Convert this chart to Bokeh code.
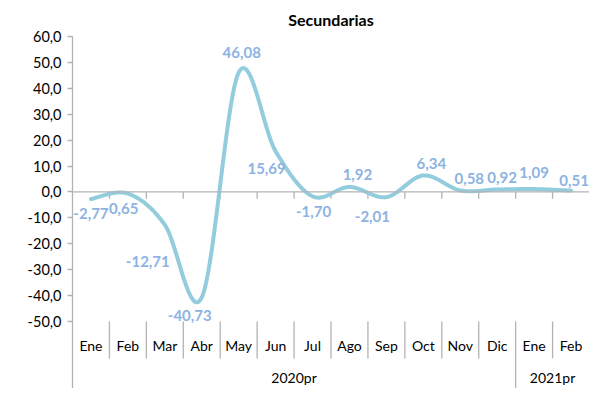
import numpy as np
from bokeh.plotting import figure
from bokeh.models import (FixedTicker, CustomJSTickFormatter, Range1d, ColumnDataSource,
                          Label, Span)
from bokeh.embed import file_html
from bokeh.resources import INLINE
from bokeh.core.properties import value

# ---------------- data ----------------
chart_title = "Secundarias"
months = ["Ene", "Feb", "Mar", "Abr", "May", "Jun", "Jul", "Ago", "Sep", "Oct", "Nov", "Dic", "Ene", "Feb"]
years = ["2020pr", "2021pr"]
year_counts = [12, 2]
values = [-2.77, -0.65, -12.71, -40.73, 46.08, 15.69, -1.70, 1.92, -2.01, 6.34, 0.58, 0.92, 1.09, 0.51]
y_ticks = [-50, -40, -30, -20, -10, 0, 10, 20, 30, 40, 50, 60]
y_axis_title = "%"

# ---------------- styling / placement ----------------
lab_dx = [0, -7, -17, -12, 3, -9, 1, 8, -14, 8, 9, 5, 0, 3]
lab_dy = [14, 15, 37, 18, -20, 17, 15, -12, 19, -12, -12, -12, -17, -10]
LINE_COLOR = "#93CDDD"
LABEL_COLOR = "#8DB3E2"
AXIS_COLOR = "#B3B3B3"
FONT = "Lato"

n = len(months)
x = np.arange(n) + 0.5
y_min, y_max = y_ticks[0], y_ticks[-1]
y_bottom = -75.9
month_y = -59.3
year_y = -71.6
sep_short = -64.3


def smooth(xs, ys, steps=40):
    P = np.column_stack([xs, ys]).astype(float)
    m = len(P)
    out = [P[0]]
    t = np.linspace(0, 1, steps)[1:, None]
    for i in range(m - 1):
        p0 = P[i - 1] if i > 0 else P[i]
        p1, p2 = P[i], P[i + 1]
        p3 = P[i + 2] if i + 2 < m else P[i + 1]
        c1 = p1 + (p2 - p0) / 6.0
        c2 = p2 - (p3 - p1) / 6.0
        seg = (1 - t) ** 3 * p1 + 3 * (1 - t) ** 2 * t * c1 + 3 * (1 - t) * t ** 2 * c2 + t ** 3 * p2
        out.extend(seg)
    return np.array(out)


p = figure(width=589, height=388, output_backend="svg", toolbar_location=None,
           x_range=Range1d(0, n), y_range=Range1d(y_bottom, y_max),
           x_axis_location=None, min_border_left=72, min_border_right=0,
           min_border_top=36, min_border_bottom=0)
p.title.text = chart_title
p.title.align = "center"
p.title.text_font = FONT
p.title.text_font_size = "16px"
p.title.text_font_style = "bold"
p.title.text_color = "black"
p.title.standoff = 15
p.outline_line_color = None
p.grid.visible = False
p.background_fill_color = "white"
p.border_fill_color = "white"

ax = p.yaxis[0]
ax.ticker = FixedTicker(ticks=y_ticks)
ax.formatter = CustomJSTickFormatter(code="return tick.toFixed(1).replace('.', ',');")
ax.minor_tick_line_color = None
ax.major_tick_in = 0
ax.major_tick_out = 5
ax.major_tick_line_color = AXIS_COLOR
ax.axis_line_color = AXIS_COLOR
ax.axis_line_width = 1.3
ax.major_tick_line_width = 1.3
ax.major_label_text_font = FONT
ax.major_label_text_font_size = "14.5px"
ax.major_label_text_color = "black"
ax.major_label_standoff = 6

# zero line
p.add_layout(Span(location=0, dimension="width", line_color=AXIS_COLOR, line_width=1.3))

# ticks on zero line at category boundaries
bounds = np.arange(1, n)
p.segment(x0=bounds, y0=np.zeros(len(bounds)), x1=bounds, y1=np.full(len(bounds), -2.6),
          line_color=AXIS_COLOR, line_width=1.3)

# category separators below the plot
year_edges = np.cumsum(year_counts)[:-1]
sep_bottom = [y_bottom if b in year_edges else sep_short for b in bounds]
p.segment(x0=bounds, y0=np.full(len(bounds), y_min), x1=bounds, y1=sep_bottom,
          line_color=AXIS_COLOR, line_width=1.3)

# month labels
p.text(x=x, y=np.full(n, month_y), text=months, text_align="center", text_baseline="middle",
       text_font=value(FONT), text_font_size="14px", text_color="black")

# year labels
starts = np.concatenate([[0], np.cumsum(year_counts)[:-1]])
year_x = starts + np.array(year_counts) / 2.0
p.text(x=year_x, y=np.full(len(years), year_y), text=years, text_align="center",
       text_baseline="middle", text_font=value(FONT), text_font_size="14px", text_color="black")

# smoothed line
curve = smooth(x, values)
p.line(curve[:, 0], curve[:, 1], line_color=LINE_COLOR, line_width=4, line_cap="round",
       line_join="round")

# data labels
labels = [f"{v:.2f}".replace(".", ",") for v in values]
src = ColumnDataSource(dict(x=x, y=values, t=labels, dx=lab_dx, dy=lab_dy))
p.text(x="x", y="y", text="t", x_offset="dx", y_offset="dy", source=src,
       text_align="center", text_baseline="middle", text_font=value(FONT),
       text_font_size="15px", text_font_style="bold", text_color=LABEL_COLOR)

# y axis title
p.add_layout(Label(x=-1.7, y=(y_min + y_max) / 2.0, text=y_axis_title, angle=np.pi / 2,
                   text_align="center", text_baseline="middle", text_font=FONT,
                   text_font_size="15px", text_color="black"))

open("out.html", "w").write(file_html(p, INLINE))
